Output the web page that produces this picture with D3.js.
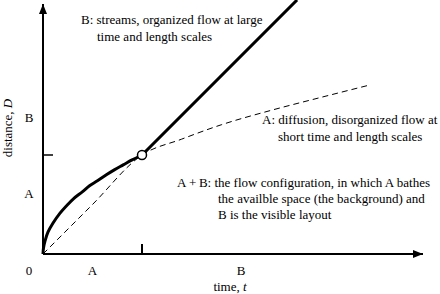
<!DOCTYPE html>
<html>
<head>
<meta charset="utf-8">
<script src="https://cdn.jsdelivr.net/npm/d3@7"></script>
<style>
  body { margin: 0; background: #fff; }
</style>
</head>
<body>
<div id="container"></div>
<script>
// curve B (thick): organised flow, sqrt-like start up to the crossover
const streamT = [0, 0.005, 0.02, 0.05, 0.1, 0.17, 0.25, 0.31, 0.4, 0.47, 0.55, 0.64, 0.72, 0.81, 0.9, 1.0];
const streamD = [0, 0.06, 0.13, 0.22, 0.31, 0.41, 0.5, 0.56, 0.63, 0.69, 0.74, 0.80, 0.85, 0.90, 0.95, 1.0];
// then straight on to the top edge
const streamEnd = [2.566, 2.566];

// curve A (dashed): diffusion
const diffT = [0, 0.5, 1.0, 1.4, 1.8, 2.3, 2.8, 3.3];
const diffD = [0, 0.5, 1.0, 1.16, 1.305, 1.45, 1.58, 1.707];

// crossover point
const cross = { t: 1, D: 1 };

const xTicks = [1];
const yTicks = [1];
const xRegionLabels = ['A', 'B'];
const xRegionMids = [0.5, 2.0];
const yRegionLabels = ['A', 'B'];
const yRegionMids = [0.62, 1.38];

const WIDTH = 440;
const HEIGHT = 294;
const FONT = '"Liberation Serif", "Times New Roman", Times, "DejaVu Serif", serif';

const x = d3.scaleLinear().domain([0, 1]).range([43, 142]);
const y = d3.scaleLinear().domain([0, 1]).range([254, 155]);
const xMax = x.invert(423);
const yMax = y.invert(4);

const svg = d3.select('#container')
    .append('svg')
    .attr('width', WIDTH)
    .attr('height', HEIGHT)
    .attr('font-family', FONT)
    .attr('font-size', 13)
    .style('font-family', FONT);

const defs = svg.append('defs');
defs.append('marker')
    .attr('id', 'arrow')
    .attr('viewBox', '0 0 10 8')
    .attr('refX', 10)
    .attr('refY', 4)
    .attr('markerWidth', 10)
    .attr('markerHeight', 8)
    .attr('markerUnits', 'userSpaceOnUse')
    .attr('orient', 'auto')
    .append('path')
    .attr('d', 'M0,0 L10,4 L0,8 Z')
    .attr('fill', '#000');

// axes
svg.append('line')
    .attr('x1', x(0)).attr('y1', y(0))
    .attr('x2', x(0)).attr('y2', y(yMax))
    .attr('stroke', '#000').attr('stroke-width', 2)
    .attr('marker-end', 'url(#arrow)');
svg.append('line')
    .attr('x1', x(0)).attr('y1', y(0))
    .attr('x2', x(xMax)).attr('y2', y(0))
    .attr('stroke', '#000').attr('stroke-width', 2)
    .attr('marker-end', 'url(#arrow)');

// ticks
svg.selectAll('.xtick').data(xTicks).enter().append('line')
    .attr('x1', d => x(d)).attr('x2', d => x(d))
    .attr('y1', y(0)).attr('y2', y(0) - 10)
    .attr('stroke', '#000').attr('stroke-width', 2);
svg.selectAll('.ytick').data(yTicks).enter().append('line')
    .attr('y1', d => y(d)).attr('y2', d => y(d))
    .attr('x1', x(0)).attr('x2', x(0) + 10)
    .attr('stroke', '#000').attr('stroke-width', 1.5);

// region labels
svg.selectAll('.xlab').data(xRegionLabels).enter().append('text')
    .attr('x', (d, i) => x(xRegionMids[i]))
    .attr('y', 275)
    .attr('text-anchor', 'middle')
    .text(d => d);
svg.selectAll('.ylab').data(yRegionLabels).enter().append('text')
    .attr('x', 29)
    .attr('y', (d, i) => y(yRegionMids[i]) + 5)
    .attr('text-anchor', 'middle')
    .text(d => d);
svg.append('text').attr('x', 29).attr('y', 275).attr('text-anchor', 'middle').text('0');

// axis titles
const xt = svg.append('text').attr('x', 230).attr('y', 291).attr('text-anchor', 'middle');
xt.append('tspan').text('time, ');
xt.append('tspan').attr('font-style', 'italic').text('t');
const yt = svg.append('text')
    .attr('transform', 'translate(12,128) rotate(-90)')
    .attr('text-anchor', 'middle');
yt.append('tspan').text('distance, ');
yt.append('tspan').attr('font-style', 'italic').text('D');

// curves
const diffGen = d3.line()
    .x(d => x(d[0])).y(d => y(d[1]))
    .curve(d3.curveMonotoneX);
const diffPts = diffT.map((t, i) => [t, diffD[i]]);
svg.append('path')
    .datum(diffPts)
    .attr('d', diffGen)
    .attr('fill', 'none')
    .attr('stroke', '#000')
    .attr('stroke-width', 1)
    .attr('stroke-dasharray', '6,4');

const streamGen = d3.line()
    .x(d => x(d[0])).y(d => y(d[1]))
    .curve(d3.curveCatmullRom.alpha(0.5));
const streamPts = streamT.map((t, i) => [t, streamD[i]]);
svg.append('path')
    .attr('d', streamGen(streamPts) + `L${x(streamEnd[0])},${y(streamEnd[1])}`)
    .attr('fill', 'none')
    .attr('stroke', '#000')
    .attr('stroke-width', 3);

svg.append('circle')
    .attr('cx', x(cross.t)).attr('cy', y(cross.D))
    .attr('r', 4.5)
    .attr('fill', '#fff')
    .attr('stroke', '#000')
    .attr('stroke-width', 1.5);

// annotations
function note(lines) {
    lines.forEach(l => {
        svg.append('text').attr('x', l[0]).attr('y', l[1]).text(l[2]);
    });
}
note([
    [81, 24, 'B: streams, organized flow at large'],
    [97, 41, 'time and length scales']
]);
note([
    [262, 124, 'A: diffusion, disorganized flow at'],
    [278, 141, 'short time and length scales']
]);
note([
    [177, 187, 'A\u2009+\u2009B: the flow configuration, in which A bathes'],
    [218, 203, 'the availble space (the background) and'],
    [218, 219, 'B is the visible layout']
]);
</script>
</body>
</html>
